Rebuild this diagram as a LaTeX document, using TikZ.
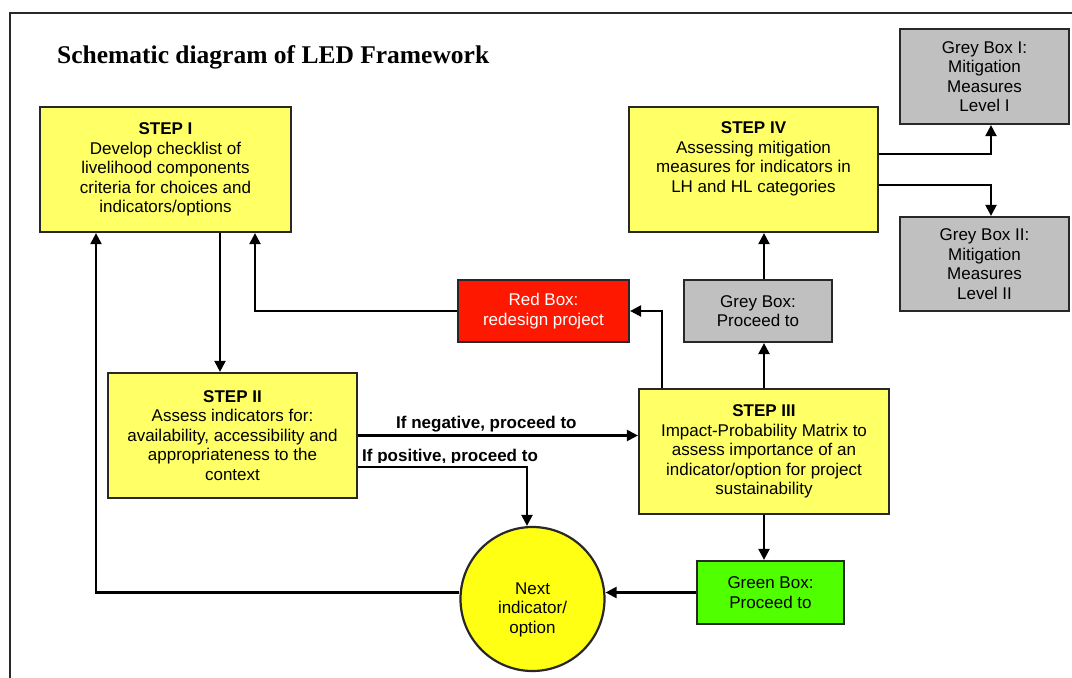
\documentclass[tikz,border=0pt]{standalone}
\usepackage{fontspec}
\setmainfont{Liberation Sans}
\newfontfamily\titlefont{Liberation Serif}
\usetikzlibrary{arrows.meta}
\definecolor{stepy}{RGB}{255,255,102}
\definecolor{circy}{RGB}{255,255,20}
\definecolor{redbox}{RGB}{255,24,0}
\definecolor{greenbox}{RGB}{80,255,0}
\definecolor{greybox}{RGB}{192,192,192}
\definecolor{boxline}{RGB}{40,40,40}
\begin{document}
\begin{tikzpicture}[x=1pt,y=-1pt,
  box/.style={draw=boxline, line width=2.2pt, rectangle, align=center, inner sep=0pt,
    font=\fontsize{17}{19.5}\selectfont},
  arr/.style={line width=2.2pt, -{Triangle[length=11pt,width=11pt]}},
  lbl/.style={font=\bfseries\fontsize{17}{19.5}\selectfont, inner sep=0pt},
  frameline/.style={line width=1.8pt, draw=boxline}
]
\useasboundingbox (0,0) rectangle (1072,678);
\fill[white] (0,0) rectangle (1072,678);
\draw[frameline] (10,678) -- (10,13) -- (1072,13);

\node[anchor=base west, inner sep=0pt, font=\titlefont\bfseries\fontsize{25.5}{30}\selectfont] (title) at (57,63) {Schematic diagram of LED Framework};

% boxes
\node[box, fill=stepy, minimum width=251pt, minimum height=125pt] (s1) at (165.5,169.5)
  {\textbf{STEP I}\\Develop checklist of\\livelihood components\\criteria for choices and\\indicators/options};
\node[box, fill=stepy, minimum width=249pt, minimum height=125pt] (s4) at (753.5,169.5)
  {\textbf{STEP IV}\\Assessing mitigation\\measures for indicators in\\LH and HL categories\\\strut};
\node[box, fill=greybox, minimum width=169pt, minimum height=95pt] (g1) at (984.5,76.5)
  {Grey Box I:\\Mitigation\\Measures\\Level I};
\node[box, fill=greybox, minimum width=169pt, minimum height=94pt] (g2) at (984.5,264)
  {Grey Box II:\\Mitigation\\Measures\\Level II};
\node[box, fill=greybox, minimum width=148pt, minimum height=62pt] (gp) at (758,311)
  {Grey Box:\\Proceed to};
\node[box, fill=redbox, text=white, minimum width=171pt, minimum height=62pt] (rd) at (543.5,311)
  {Red Box:\\redesign project};
\node[box, fill=stepy, minimum width=249pt, minimum height=125pt] (s2) at (232.5,435.5)
  {\textbf{STEP II}\\Assess indicators for:\\availability, accessibility and\\appropriateness to the\\context};
\node[box, fill=stepy, minimum width=250pt, minimum height=125pt] (s3) at (764,451.5)
  {\textbf{STEP III}\\Impact-Probability Matrix to\\assess importance of an\\indicator/option for project\\sustainability};
\node[box, fill=greenbox, minimum width=147pt, minimum height=63pt] (gr) at (770.5,592.5)
  {Green Box:\\Proceed to};
\node[box, circle, fill=circy, minimum size=144pt] (ci) at (532.5,599)
  {\strut\\Next\\indicator/\\option};

% connectors
\draw[arr] ([xshift=54.5pt]s1.south) -- ([xshift=54.5pt]s1.south |- s2.north);
\draw[arr] (rd.west) -| ([xshift=89.5pt]s1.south);
\draw[arr] (gr.west -| ci.west) -| ([xshift=-69.5pt]s1.south);
\draw[arr] (gr.west) -- (gr.west -| ci.east);
\draw[arr] (s2.east) -- (s2.east -| s3.west);
\draw[arr] ([yshift=-31.5pt]s2.east) -| ([xshift=-5.5pt]ci.north);
\draw[arr] ([xshift=-102pt]s3.north) |- (rd.east);
\draw[arr] (s3.north) -- (s3.north |- gp.south);
\draw[arr] (s3.north |- gp.north) -- (s3.north |- s4.south);
\draw[arr] (s3.south) -- (s3.south |- gr.north);
\draw[arr] ([yshift=15.5pt]s4.east) -| ([xshift=6.5pt]g1.south);
\draw[arr] ([yshift=-15.5pt]s4.east) -| ([xshift=6.5pt]g2.north);

% edge labels
\node[lbl, anchor=base west] (neg) at (396,428) {If negative, proceed to};
\begin{scope}
  \clip (355,440) rectangle (560,462);
  \node[lbl, anchor=base west] (posl) at (362,461) {If positive, proceed to};
\end{scope}
\end{tikzpicture}
\end{document}
